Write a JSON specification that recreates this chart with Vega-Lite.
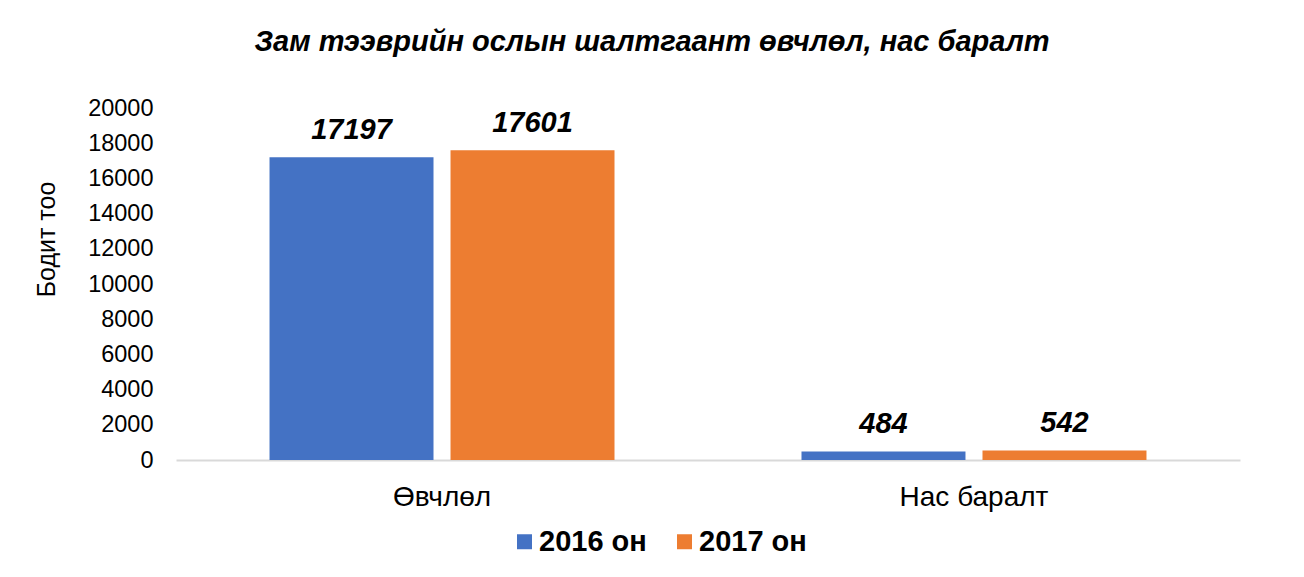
{
  "$schema": "https://vega.github.io/schema/vega-lite/v6.json",
  "width": 1064,
  "height": 352,
  "autosize": {"type": "none"},
  "padding": {"left": 176, "top": 108, "right": 64, "bottom": 117},
  "background": "white",
  "config": {
    "font": "Liberation Sans",
    "view": {"stroke": null}
  },
  "title": {
    "text": "Зам тээврийн ослын шалтгаант өвчлөл, нас баралт",
    "font": "Liberation Sans",
    "fontSize": 29,
    "fontWeight": "bold",
    "fontStyle": "italic",
    "color": "#000000",
    "anchor": "middle",
    "frame": "group",
    "baseline": "alphabetic",
    "offset": 16,
    "dx": -56
  },
  "data": {
    "values": [
      {"category": "Өвчлөл", "year": "2016 он", "value": 17197},
      {"category": "Өвчлөл", "year": "2017 он", "value": 17601},
      {"category": "Нас баралт", "year": "2016 он", "value": 484},
      {"category": "Нас баралт", "year": "2017 он", "value": 542}
    ]
  },
  "encoding": {
    "x": {
      "field": "category",
      "type": "nominal",
      "sort": ["Өвчлөл", "Нас баралт"],
      "scale": {"paddingInner": 0.3515, "paddingOuter": 0.1758},
      "axis": {
        "title": null,
        "labelAngle": 0,
        "labelFontSize": 28,
        "labelColor": "#000000",
        "labelPadding": 23,
        "ticks": false,
        "tickSize": 0,
        "domainColor": "#d9d9d9",
        "domainWidth": 2
      }
    },
    "xOffset": {
      "field": "year",
      "type": "nominal",
      "scale": {"paddingInner": 0.094, "paddingOuter": 0}
    },
    "y": {
      "field": "value",
      "type": "quantitative",
      "scale": {"domain": [0, 20000], "nice": false},
      "axis": {
        "title": "Бодит тоо",
        "titleFontSize": 25,
        "titleFontWeight": "normal",
        "titleColor": "#000000",
        "titleX": -117,
        "titleY": 131,
        "values": [0, 2000, 4000, 6000, 8000, 10000, 12000, 14000, 16000, 18000, 20000],
        "format": "d",
        "labelFontSize": 23.5,
        "labelColor": "#000000",
        "labelPadding": 23,
        "ticks": false,
        "tickSize": 0,
        "domain": false,
        "grid": false
      }
    }
  },
  "layer": [
    {
      "mark": {"type": "bar"},
      "encoding": {
        "color": {
          "field": "year",
          "type": "nominal",
          "scale": {"domain": ["2016 он", "2017 он"], "range": ["#4472C4", "#ED7D31"]},
          "legend": {
            "title": null,
            "orient": "none",
            "direction": "horizontal",
            "legendX": 334,
            "legendY": 419,
            "padding": 0,
            "symbolType": "square",
            "symbolSize": 225,
            "symbolStrokeWidth": 0,
            "labelFontSize": 29,
            "labelFontWeight": "bold",
            "labelColor": "#000000",
            "labelOffset": 0,
            "columnPadding": 23
          }
        }
      }
    },
    {
      "mark": {
        "type": "text",
        "baseline": "alphabetic",
        "dy": -18,
        "fontSize": 29,
        "fontWeight": "bold",
        "fontStyle": "italic",
        "color": "#000000"
      },
      "encoding": {
        "text": {"field": "value", "type": "quantitative", "format": "d"}
      }
    }
  ]
}
